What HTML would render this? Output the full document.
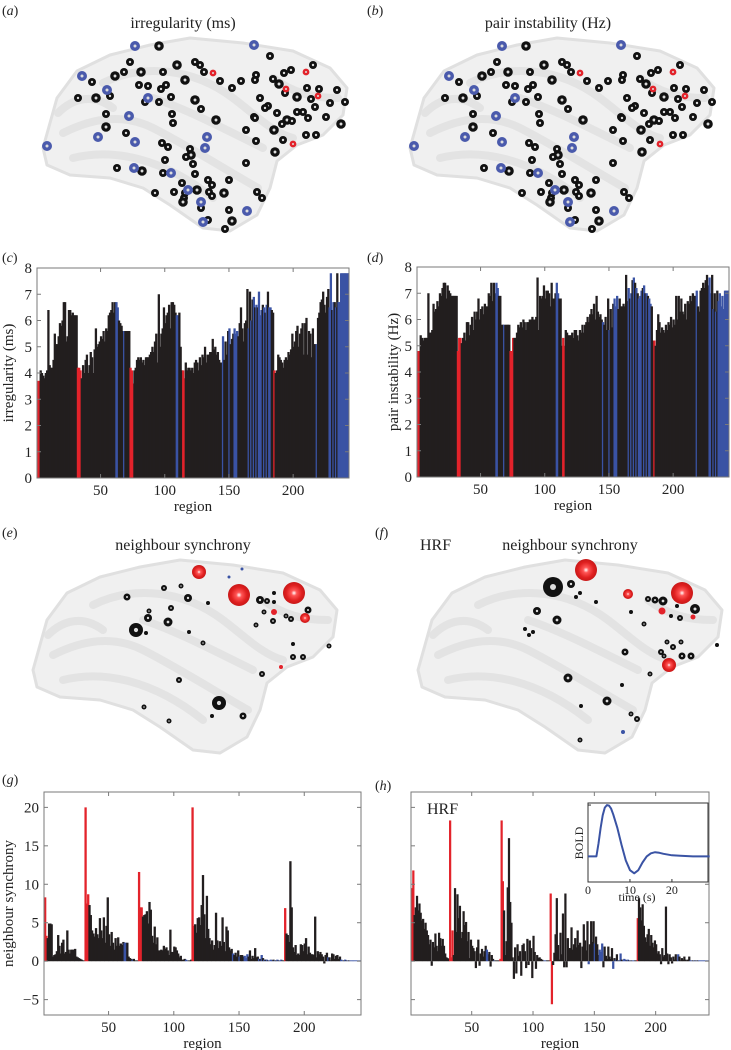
<!DOCTYPE html>
<html><head><meta charset="utf-8">
<style>
html,body{margin:0;padding:0;background:#fff;}
svg{display:block;font-family:"Liberation Serif",serif;}
</style></head>
<body>
<svg id="fig" width="731" height="1050" viewBox="0 0 731 1050" xmlns="http://www.w3.org/2000/svg">
<defs>
<radialGradient id="gr" cx="0.5" cy="0.5" r="0.5"><stop offset="0" stop-color="#fff"/><stop offset="0.25" stop-color="#f55"/><stop offset="0.7" stop-color="#e02020"/><stop offset="1" stop-color="#c81818"/></radialGradient>
</defs>
</svg>
<script>
const regions = 243;
const redIdx = [1,2,32,33,34,73,74,75,114,115,185];
const blueIdx = [62,63,68,109,110,145,150,154,155,156,165,167,169,171,173,174,175,177,179,181,182,218,228,229,231,233,235,236,237,238,239,240,241,242,243];
const irregularity = [
3.7,3.7,4.1,4.0,3.9,3.8,4.0,4.1,6.4,4.3, 4.2,4.2,4.5,5.5,5.1,5.1,5.4,5.9,5.8,6.0,
6.7,6.7,5.2,5.4,6.4,6.4,6.2,6.3,6.2,6.2, 6.2,4.2,4.2,4.1,3.8,4.3,4.0,4.5,4.7,4.0,
4.3,4.8,4.6,4.0,4.9,5.7,5.0,5.1,5.2,5.4, 5.3,5.6,5.2,5.7,5.6,6.2,6.3,6.4,6.7,6.3,
6.7,6.7,6.5,6.0,5.9,5.8,5.6,5.6,5.6,5.6, 5.6,5.6,4.2,4.1,3.6,4.1,4.2,4.5,4.6,4.5,
4.6,4.4,4.5,4.3,4.6,4.6,4.6,4.7,4.8,5.0, 4.8,5.2,5.5,4.4,7.0,5.0,5.5,5.7,6.5,5.9,
6.2,6.3,6.6,5.7,6.7,6.7,6.6,6.3,6.2,6.2, 6.3,5.0,4.1,4.1,3.8,4.4,4.1,4.2,4.2,4.1,
4.2,4.0,4.4,4.5,4.4,4.1,4.6,4.3,4.7,4.6, 5.0,4.4,4.7,4.7,4.8,4.8,5.3,4.9,5.0,4.7,
4.8,4.5,4.4,4.4,5.4,4.5,5.2,4.7,5.6,5.7, 5.1,5.3,5.5,5.7,5.5,5.6,5.4,5.9,6.5,5.7,
5.2,5.9,6.0,7.2,5.7,7.1,6.0,6.8,6.9,6.5, 6.6,6.5,7.1,6.2,6.4,6.6,6.5,6.3,6.6,7.1,
6.5,6.5,6.4,6.3, 4.1,4.0,4.1,4.7,4.6,4.5,
4.4,4.2,4.5,4.6,4.5,4.8,4.7,4.9,5.5,5.0, 5.2,5.6,5.8,5.0,5.5,5.7,5.9,4.7,5.9,6.1,
4.7,5.6,5.5,4.6,5.7,5.1,5.1,5.1,6.1,6.3, 6.7,6.8,7.1,6.6,6.3,6.9,7.2,6.5,7.8,6.4,
6.7,6.7,6.5,7.8,6.7,6.7,7.8,7.8,7.8,7.8, 7.8,7.8,7.8];
const pairInstability = [
4.8,4.8,5.4,5.3,5.2,5.3,5.3,5.3,7.0,5.5, 5.5,5.6,6.6,6.3,6.4,6.7,6.5,7.0,6.9,7.2,
7.4,7.4,6.8,7.3,7.1,7.0,6.9,6.9,6.9,6.9, 6.9,4.8,5.3,5.3,5.1,5.3,5.5,5.2,5.9,5.9,
5.4,5.8,6.1,5.6,6.3,6.0,6.3,6.8,6.0,6.4, 6.5,6.2,6.6,6.5,6.5,7.0,6.9,7.4,6.7,7.4,
7.0,7.4,7.2,6.9,6.9,5.8,5.8,5.8,5.8,5.8, 5.8,5.8,4.8,4.8,5.3,5.3,5.3,5.5,5.8,5.7,
5.9,5.7,6.0,5.9,5.6,5.9,5.9,6.0,6.0,6.1, 6.0,6.0,6.1,7.6,5.6,6.9,6.8,6.9,7.3,6.8,
7.1,7.1,7.0,6.5,7.4,6.8,6.8,7.0,7.4,7.0, 6.8,6.8,5.0,5.3,5.0,5.6,5.5,5.4,5.4,5.4,
5.5,5.3,5.6,5.6,5.4,5.2,5.6,5.5,5.8,5.5, 5.8,5.9,6.1,5.9,6.2,6.4,6.2,6.6,6.0,6.9,
6.3,6.1,6.2,6.0,5.9,5.8,6.1,5.6,6.8,5.6, 6.4,5.7,6.6,6.8,6.5,6.9,6.4,6.8,6.5,6.5,
6.6,6.5,7.7,6.7,7.2,6.8,7.0,7.5,7.6,7.4, 7.2,7.0,6.8,6.9,7.1,7.2,7.3,7.0,7.0,6.9,
6.8,6.6,6.5,5.2, 5.2,5.0,5.6,6.2,5.9,5.5,
5.7,5.6,5.5,5.8,5.6,5.9,5.8,6.1,5.7,6.0, 5.8,6.9,6.0,6.9,6.3,6.8,6.3,6.2,6.6,6.0,
6.7,6.6,6.9,6.7,7.0,6.9,6.9,7.1,6.5,6.3, 7.1,7.2,7.4,7.2,7.5,7.7,7.3,7.6,7.0,7.7,
6.4,7.0,6.3,7.1,6.7,7.0,6.5,6.9,6.4,7.1, 7.1,7.1,7.1];
const neighbourSync = [
8.3,3.3,3.0,4.9,4.9,4.8,0.6,0.8,0.9,1.3, 3.4,2.0,1.0,2.4,2.8,1.0,1.2,4.0,1.5,1.0,
1.5,1.5,1.5,1.6,0.6,0.5,0.4,0.3,0.2,0.1, 0.1,20.0,7.5,8.7,7.3,6.0,4.0,3.6,3.2,4.3,
3.5,3.0,5.6,4.0,3.0,5.7,2.4,4.6,8.3,3.5, 2.0,3.8,2.4,1.5,3.0,2.0,3.1,2.0,2.3,2.1,
2.5,2.4,2.4,2.4,0.6,0.4,0.3,0.2,0.3,0.1, 0.1,0.1,11.6,7.0,7.0,5.8,6.0,6.1,6.5,4.9,
7.7,6.7,3.3,2.4,4.5,2.2,3.1,1.4,1.4,1.5, 1.4,2.0,1.6,1.8,1.4,0.8,4.1,1.2,1.2,1.9,
1.8,1.4,1.0,0.5,0.7,0.2,0.2,0.3,0.2,0.1, 0.1,0.1,0.2,20.0,4.6,4.8,3.7,5.6,5.7,4.7,
7.3,11.2,6.1,3.0,8.5,4.2,3.0,2.2,2.7,1.5, 2.1,6.3,2.7,1.7,2.6,2.0,5.7,2.5,1.3,4.5,
4.0,1.8,1.4,1.6,1.0,0.8,1.1,0.6,1.4,0.6, 0.8,0.8,0.6,0.7,0.4,0.9,0.6,1.4,0.3,0.7,
0.4,1.7,0.5,0.6,0.3,0.3,0.8,0.4,0.2,0.2, 0.2,0.1,0.1,0.2,0.1,0.2,0.1,0.1,0.2,0.1,
0.1,0.2,0.1,0.1, 6.9,3.6,3.4,2.5,13.0,7.0,
1.8,1.2,2.1,0.8,1.0,0.8,2.2,2.1,1.3,2.3, 3.0,0.9,1.9,1.1,0.9,0.9,0.8,5.8,0.5,1.3,
0.9,1.2,0.9,0.6,-0.3,0.8,1.1,0.5,0.5,0.1, 1.0,0.9,0.3,0.7,0.8,0.3,0.6,0.2,0.1,0.1,
0.2,0.1,0.1,0.1,0.1,0.1,0.1,0.1,0.1,0.1, 0.1,0.1,0.1];
const neighbourSyncHRF = [
9.5,11.8,6.0,7.0,8.5,6.6,7.5,6.3,5.3,5.5, 4.2,5.0,4.0,3.4,2.2,2.8,-0.6,2.5,1.8,3.6,
2.0,1.3,3.7,3.0,2.0,2.9,2.0,1.0,0.5,0.4, 0.3,18.3,0.5,4.0,0.8,9.5,3.8,8.7,5.6,7.2,
3.0,3.8,6.5,4.7,5.1,2.6,3.8,0.4,2.8,2.0, 1.7,1.3,-0.9,1.8,2.8,-0.6,1.0,1.6,0.6,1.3,
2.0,1.5,0.9,1.2,-0.7,0.8,0.3,0.1,0.1,0.1, 0.1,0.1,0.3,18.3,10.4,6.6,0.8,2.6,9.6,16.0,
7.7,5.0,0.5,-2.3,1.8,-1.6,2.2,0.7,1.3,-1.9, 2.1,2.3,1.3,-0.9,2.9,-0.5,2.7,1.7,-2.2,3.3,
1.2,-1.0,0.8,0.4,0.5,0.3,0.2,0.1,0.1,0.1, 0.1,0.1,0.1,8.8,-5.6,-0.5,1.1,3.5,8.2,2.1,
0.2,3.7,0.9,6.2,-0.8,8.8,-0.8,3.0,1.7,1.7, 4.4,1.5,2.2,3.0,1.8,4.0,2.1,2.4,-0.9,1.9,
4.8,2.7,1.4,5.2,-0.4,2.2,5.2,2.5,5.2,2.3, 3.2,2.2,0.8,1.5,1.2,2.3,-0.8,1.9,0.7,0.3,
1.9,0.6,0.3,1.7,-1.0,0.4,0.2,0.9,0.1,0.1, 1.0,0.2,0.1,0.3,0.2,0.1,0.2,0.1,0.1,0.1,
0.1,0.1,0.1,0.1, 5.6,8.2,7.0,5.3,7.4,4.6,
3.1,2.5,3.5,4.2,2.0,3.4,2.4,1.8,2.7,2.2, 1.0,1.3,0.9,-0.4,1.7,0.6,0.8,7.1,1.0,-0.4,
0.9,0.5,-0.3,0.6,0.2,0.9,0.1,0.9,0.6,0.1, 0.4,0.2,0.6,0.2,0.1,0.2,0.6,0.1,0.1,0.1,
0.1,0.1,0.1,0.1,0.1,0.1,0.1,0.1,0.1,0.1, 0.1,0.1,0.1];
const xTicks = [50,100,150,200];
const yTicksCD = [0,1,2,3,4,5,6,7,8];
const yTicksGH = [-5,0,5,10,15,20];
const hrfTime = [0,2,2.5,3,3.5,4,4.5,5,5.5,6,7,8,9,10,11,12,13,14,15,16,17,18,20,22,25,29];
const hrfBold = [0,0,0.25,0.55,0.8,0.95,1.0,0.99,0.93,0.82,0.55,0.22,-0.08,-0.27,-0.33,-0.27,-0.12,0,0.06,0.08,0.07,0.05,0.02,0.01,0,0];
const hrfTicks = [0,10,20];
const brainBlue = [[135,46],[254,45],[82,76],[107,90],[148,98],[129,116],[98,137],[207,137],[47,146],[135,142],[205,148],[134,168],[171,173],[188,190],[201,202],[247,211],[203,222]];
const brainRed = [[213,73],[306,72],[286,89],[318,96],[293,144]];
const brainBlack = [[159,46],[270,56],[313,65],[130,62],[124,72],[141,72],[163,72],[195,62],[200,65],[204,72],[177,65],[256,75],[284,73],[291,70],[92,82],[115,76],[139,85],[148,86],[161,89],[166,85],[185,80],[220,81],[241,81],[255,80],[273,79],[279,84],[307,88],[319,89],[337,90],[78,98],[96,98],[110,96],[145,102],[159,102],[171,97],[195,100],[232,88],[260,98],[268,106],[285,93],[297,97],[311,99],[345,102],[172,114],[201,109],[216,120],[254,117],[265,108],[277,113],[297,112],[287,120],[303,112],[315,107],[330,103],[106,114],[106,127],[126,133],[173,123],[246,130],[255,118],[274,130],[282,124],[292,121],[308,118],[326,117],[341,124],[306,135],[316,135],[256,141],[283,140],[275,152],[162,143],[168,147],[190,149],[165,160],[191,155],[193,164],[186,157],[246,163],[117,168],[142,171],[163,173],[195,174],[229,180],[208,180],[197,190],[212,185],[209,192],[182,183],[212,196],[224,193],[257,192],[262,198],[184,198],[201,208],[183,202],[155,193],[174,192],[208,220],[229,210],[232,221],[225,229],[185,193]];
const eRed = [[166,12,7],[206,35,11],[261,33,11],[272,58,5],[241,52,3],[248,107,2]];
const eBlack = [[103,70,7],[186,143,7],[135,62,4.5],[115,58,4],[155,38,4],[227,40,4],[275,50,3.5],[210,156,3.5],[94,37,3.5],[131,28,3],[146,120,3],[234,41,3],[240,61,3],[258,59,3],[260,97,3],[270,97,3],[229,114,3],[170,83,2.5],[138,48,3],[116,51,2.5],[148,26,2.5],[223,65,2.5],[231,52,2.5],[253,56,2.5],[296,86,2.5],[111,147,2.5],[136,161,2.5],[156,72,2],[175,43,2],[211,37,2.5],[241,42,2],[113,73,2],[179,156,2],[260,84,2],[241,33,2]];
const eBlue = [[209,9,1.5],[196,17,1.5]];
const fRed = [[168,10,11],[264,33,11],[251,105,7],[210,34,5],[244,51,3.5],[275,57,2.5]];
const fBlack = [[135,27,10],[153,24,4],[277,49,5],[245,41,4.5],[237,40,3.5],[230,39,3],[139,60,4.5],[119,51,4],[150,118,4.5],[189,141,4.5],[207,92,3.5],[264,96,3.5],[273,96,3.5],[255,87,3],[262,58,3],[243,92,3],[246,96,2.5],[249,82,2.5],[263,82,2.5],[226,64,2.5],[213,154,2.5],[219,159,3],[232,114,2.5],[204,125,2],[162,180,2.5],[163,146,2],[158,37,2],[162,33,2],[178,42,2],[213,52,2],[253,56,2],[111,75,2],[107,69,2],[115,72,2],[259,46,2],[299,85,2]];
const fBlue = [[205,172,2]];

const NS = "http://www.w3.org/2000/svg";
const svg = document.getElementById('fig');
function mk(tag, attrs, parent){const el=document.createElementNS(NS,tag);for(const k in attrs)el.setAttribute(k,attrs[k]);(parent||svg).appendChild(el);return el;}
function txt(s, attrs, parent){const el=mk('text',attrs,parent);el.textContent=s;return el;}
const RED='#e3232b', BLUE='#3a53a4', BLACK='#221e1f';
function colorOf(i){if(redIdx.includes(i))return RED;if(blueIdx.includes(i))return BLUE;return BLACK;}

function barPanel(name, box, vals, ymin, ymax, yticks, showYLabels, ylabel){
  const g = mk('g',{});
  
  
  const w = box.x1-box.x0, h = box.y1-box.y0;
  const sx = v => box.x0 + (v-0.5)/regions*w;
  const sy = v => box.y1 - (v-ymin)/(ymax-ymin)*h;
  const barsG = mk('g',{},g);
  
  
  for(let i=1;i<=vals.length;i++){
    const v=vals[i-1]; const y0=sy(Math.max(0,v)), y1=sy(Math.min(0,v));
    const r = mk('rect',{x:sx(i-0.5),y:y0,width:Math.min((w/regions)+1, box.x1-sx(i-0.5)),height:Math.max(0.6,y1-y0),fill:colorOf(i)},barsG);
    
    
  }
  const frame = mk('rect',{x:box.x0,y:box.y0,width:w,height:h,fill:'none',stroke:'#7a7a7a','stroke-width':1},g);
  
  
  yticks.forEach(t=>{
    const y=sy(t);
    mk('line',{x1:box.x0,x2:box.x0+4,y1:y,y2:y,stroke:'#7a7a7a'},g);
    mk('line',{x1:box.x1,x2:box.x1-4,y1:y,y2:y,stroke:'#7a7a7a'},g);
    if(showYLabels){
      const lb = txt(String(t).replace('-','\u2212'),{x:box.x0-5,y:y+5,'text-anchor':'end','font-size':15,fill:'#222'},g);
      
      
    }
  });
  xTicks.forEach(t=>{
    const x=sx(t);
    mk('line',{x1:x,x2:x,y1:box.y1,y2:box.y1-4,stroke:'#7a7a7a'},g);
    mk('line',{x1:x,x2:x,y1:box.y0,y2:box.y0+4,stroke:'#7a7a7a'},g);
    const lb = txt(String(t),{x:x,y:box.y1+17,'text-anchor':'middle','font-size':15,fill:'#222'},g);
    
    
  });
  const xl = txt('region',{x:(box.x0+box.x1)/2,y:box.y1+33,'text-anchor':'middle','font-size':15,fill:'#222'},g);
  
  
  if(ylabel){
    const cx = ylabel.x, cy=(box.y0+box.y1)/2;
    const yl = txt(ylabel.text,{x:cx,y:cy,'text-anchor':'middle','font-size':15,fill:'#222',transform:`rotate(-90 ${cx} ${cy})`},g);
    
    
  }
  return {g,sx,sy};
}

function label(s,x,y){
  const t=txt('',{x:x,y:y,'font-size':14,fill:'#222'});
  t.innerHTML = '('+'<tspan font-style="italic">'+s+'</tspan>)';
  
  
}
function title(s,x,y,name){
  const t=txt(s,{x:x,y:y,'text-anchor':'middle','font-size':16,fill:'#222'});
  
  
}

const brainOutline = [[0,110],[14,60],[34,33],[67,17],[107,7],[147,0],[200,5],[250,13],[287,30],[304,50],[300,77],[280,97],[254,107],[234,123],[227,150],[214,177],[187,193],[160,190],[127,167],[100,150],[67,140],[27,137],[4,127]];
function brain(tx,ty,name){
  const g = mk('g',{transform:`translate(${tx},${ty})`});
  
  
  const d='M'+brainOutline.map(p=>p.join(',')).join(' L')+' Z';
  const p=mk('path',{d:d,fill:'#f0f0f0',stroke:'#e0e0e0','stroke-width':3,'stroke-linejoin':'round'},g);
  
  
  const sulci=['M20,95 C50,80 80,75 110,90 C140,105 180,130 215,150','M60,45 C100,25 150,30 190,60 C210,75 230,95 250,100','M110,60 C140,70 170,85 220,110','M30,120 C70,110 120,120 170,160','M230,40 C250,55 270,60 295,60','M15,75 C30,60 50,55 70,70'];
  sulci.forEach(s=>{const q=mk('path',{d:s,fill:'none',stroke:'#e3e3e3','stroke-width':8,'stroke-linecap':'round'},g);});
  return g;
}
function ring(parent,x,y,r,color,name){
  const c=mk('circle',{cx:x,cy:y,r:r,fill:color},parent);
  
  
  if(r>=2.5){mk('circle',{cx:x,cy:y,r:Math.max(0.7,r*0.3),fill:'#ddd'},parent);}
}
function markersAB(dx,name){
  const g=mk('g',{transform:`translate(${dx},0)`});
  
  
  brainBlack.forEach((p,k)=>ring(g,p[0],p[1],k%5===0?4.8:4.0,'#111','marker-black'));
  brainRed.forEach(p=>ring(g,p[0],p[1],3.4,RED,'marker-red'));
  brainBlue.forEach(p=>ring(g,p[0],p[1],5,'#4a5aac','marker-blue'));
}
function markersEF(g,blk,red,blue){
  blk.forEach(p=>ring(g,p[0],p[1],p[2],'#111','marker-black'));
  blue.forEach(p=>ring(g,p[0],p[1],p[2],BLUE,'marker-blue'));
  red.forEach(p=>{
    const c=mk('circle',{cx:p[0],cy:p[1],r:p[2],fill:p[2]>4?'url(#gr)':RED},g);
    
    
  });
}

label('a',2,15); title('irregularity (ms)',183,28,'title-irregularity');
brain(43,38,'brain-a'); markersAB(0,'markers-a');
label('b',367,15); title('pair instability (Hz)',548,28,'title-pair-instability');
brain(410,38,'brain-b'); markersAB(367,'markers-b');

label('c',2,262);
barPanel('chart-irregularity',{x0:37,x1:349,y0:268,y1:478},irregularity,0,8,yTicksCD,true,{x:13,text:'irregularity (ms)'});
label('d',367,262);
barPanel('chart-pair-instability',{x0:417,x1:729,y0:267,y1:477},pairInstability,0,8,yTicksCD,true,{x:398,text:'pair instability (Hz)'});

label('e',2,537); title('neighbour synchrony',183,550,'title-neighbour-synchrony-e');
const ge=brain(33,560,'brain-e'); markersEF(ge,eBlack,eRed,eBlue);
label('f',375,537); title('neighbour synchrony',570,550,'title-neighbour-synchrony-f');
const hf=txt('HRF',{x:420,y:550,'font-size':16,fill:'#222'});  
const gf=brain(418,560,'brain-f'); markersEF(gf,fBlack,fRed,fBlue);

label('g',2,784);
barPanel('chart-neighbour-synchrony',{x0:44,x1:361,y0:792,y1:1015},neighbourSync,-7,22,yTicksGH,true,{x:13,text:'neighbour synchrony'});
label('h',375,790);
barPanel('chart-neighbour-synchrony-hrf',{x0:411,x1:709,y0:792,y1:1015},neighbourSyncHRF,-7,22,yTicksGH,false,null);
const hh=txt('HRF',{x:427,y:814,'font-size':16,fill:'#222'});  

(function(){
  const b={x0:588,x1:708,y0:803,y1:882}, tmax=28.6, vmin=-0.5, vmax=1.04;
  const g=mk('g',{});  
  const sx=t=>b.x0+t/tmax*(b.x1-b.x0), sy=v=>b.y1-(v-vmin)/(vmax-vmin)*(b.y1-b.y0);
  const bg=mk('rect',{x:b.x0,y:b.y0,width:b.x1-b.x0,height:b.y1-b.y0,fill:'#fff',stroke:'#333','stroke-width':1},g);
   
  hrfTicks.forEach(t=>{
    mk('line',{x1:sx(t),x2:sx(t),y1:b.y1,y2:b.y1-3,stroke:'#333'},g);
    const l=txt(String(t),{x:sx(t),y:b.y1+12,'text-anchor':'middle','font-size':12,fill:'#222'},g);
     
  });
  [0,1].forEach(v=>{mk('line',{x1:b.x0,x2:b.x0+3,y1:sy(v),y2:sy(v),stroke:'#333'},g);});
  const pts=hrfTime.map((t,k)=>sx(t).toFixed(1)+','+sy(hrfBold[k]).toFixed(1));
  const ln=mk('polyline',{points:pts.join(' '),fill:'none',stroke:'#3a53a4','stroke-width':2,'stroke-linejoin':'round'},g);
   
  const xl=txt('time (s)',{x:637,y:901,'text-anchor':'middle','font-size':12,fill:'#222'},g);
   
  const yl=txt('BOLD',{x:583,y:843,'text-anchor':'middle','font-size':12,fill:'#222',transform:'rotate(-90 583 843)'},g);
   
})();
</script>
</body></html>
